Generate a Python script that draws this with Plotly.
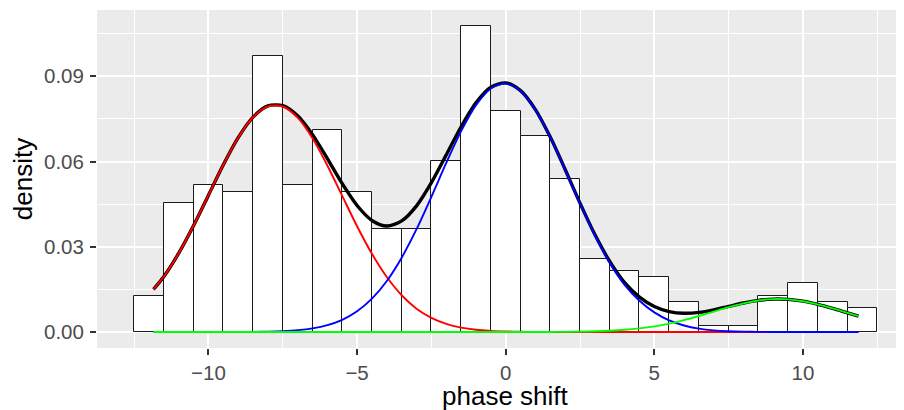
import plotly.graph_objects as go

# Histogram (binwidth 1, centred on integers)
bin_centers = [-12, -11, -10, -9, -8, -7, -6, -5, -4, -3, -2, -1, 0,
               1, 2, 3, 4, 5, 6, 7, 8, 9, 10, 11, 12]
bin_density = [0.0128, 0.0454, 0.0517, 0.0494, 0.0971, 0.0517, 0.0711, 0.0494,
               0.0364, 0.0364, 0.0603, 0.1078, 0.0777, 0.0690, 0.0538, 0.0258,
               0.0214, 0.0192, 0.0106, 0.0020, 0.0020, 0.0128, 0.0172, 0.0106, 0.0084]

# Mixture component curves
curve_x = [-11.85, -11.5, -11, -10.5, -10, -9.5, -9, -8.5, -8, -7.5, -7, -6.5, -6,
           -5.5, -5, -4.5, -4, -3.5, -3, -2.5, -2, -1.5, -1, -0.5, 0, 0.5, 1, 1.5,
           2, 2.5, 3, 3.5, 4, 4.5, 5, 5.5, 6, 6.5, 7, 7.5, 8, 8.5, 9, 9.5, 10,
           10.5, 11, 11.5, 11.87]
red_y = [0.0150, 0.01952, 0.02774, 0.03747, 0.04816, 0.05885, 0.06839, 0.07558,
         0.07942, 0.07937, 0.07544, 0.06818, 0.0586, 0.0479, 0.03723, 0.02752,
         0.01934, 0.01294, 0.00822, 0.00497, 0.00286, 0.00156, 0.00081, 0.0004,
         0.00019, 0.000085, 0.00004, 0.000015, 0.000006, 0.000002,
         0, 0, 0, 0, 0, 0, 0, 0, 0, 0, 0, 0, 0, 0, 0, 0, 0, 0, 0]
blue_y = [0, 0, 0, 0.000001, 0.000004, 0.00001, 0.000026, 0.000063, 0.000144,
          0.000313, 0.00065, 0.001285, 0.00241, 0.0043, 0.00729, 0.01174, 0.01797,
          0.02616, 0.03619, 0.04759, 0.05949, 0.07069, 0.07985, 0.08572, 0.08748,
          0.08486, 0.07824, 0.06857, 0.05713, 0.04524, 0.03405, 0.02437, 0.01657,
          0.0110, 0.0069, 0.0041, 0.0023, 0.00118, 0.000565, 0.00027, 0.000122,
          0.000053, 0.000022, 0.000008, 0.000003, 0.000001, 0, 0, 0]
green_y = [0, 0, 0, 0, 0, 0, 0, 0, 0, 0, 0, 0, 0, 0, 0, 0, 0, 0, 0, 0, 0, 0, 0, 0,
           0.000002, 0.000006, 0.000014, 0.000031, 0.000065, 0.000131, 0.000249,
           0.000452, 0.000781, 0.001283, 0.002002, 0.002972, 0.004197, 0.005634,
           0.007194, 0.008734, 0.010085, 0.011073, 0.011562, 0.011482, 0.010842,
           0.009736, 0.008315, 0.006752, 0.0056]
total_y = [0.0150, 0.01952, 0.02774, 0.03747, 0.04816, 0.05886, 0.06842, 0.07564,
           0.07956, 0.07968, 0.07609, 0.06947, 0.06101, 0.0522, 0.04452, 0.03926,
           0.03731, 0.0391, 0.04441, 0.05256, 0.06235, 0.07225, 0.08066, 0.08612,
           0.08767, 0.08495, 0.07829, 0.0686, 0.0572, 0.04537, 0.0343, 0.02482,
           0.01735, 0.01230, 0.0090, 0.0072, 0.0066, 0.0069, 0.0078, 0.0090,
           0.01021, 0.01113, 0.01158, 0.01149, 0.01085, 0.00974, 0.00832, 0.00675,
           0.0056]

x_tickvals = [-10, -5, 0, 5, 10]
x_ticktext = ["\u221210", "\u22125", "0", "5", "10"]
y_tickvals = [0.0, 0.03, 0.06, 0.09]
y_ticktext = ["0.00", "0.03", "0.06", "0.09"]

FONT = "Liberation Sans, Arial, Helvetica, sans-serif"

fig = go.Figure()
fig.add_trace(go.Bar(x=bin_centers, y=bin_density, width=1,
                     marker=dict(color="white", line=dict(color="#1a1a1a", width=1)),
                     showlegend=False, hoverinfo="skip"))
for ys, col, w in [(total_y, "black", 3.4), (red_y, "#FF0000", 1.9),
                   (blue_y, "#0000FF", 1.9), (green_y, "#00FF00", 1.9)]:
    fig.add_trace(go.Scatter(x=curve_x, y=ys, mode="lines",
                             line=dict(color=col, width=w, shape="spline", smoothing=0.8),
                             showlegend=False))

# the page body has an 8px default margin, so the figure is offset by 8px
fig.update_layout(
    width=896, height=402,
    margin=dict(l=89, r=0, t=2, b=62, autoexpand=False),
    paper_bgcolor="white", plot_bgcolor="#EBEBEB",
    bargap=0,
    font=dict(family=FONT, color="#4D4D4D", size=20),
    xaxis=dict(range=[-13.75, 13.40], tickmode="array", tickvals=x_tickvals,
               ticktext=x_ticktext, showgrid=True, gridcolor="white", gridwidth=2.2,
               zeroline=False, ticks="outside", ticklen=6, tickwidth=2,
               tickcolor="#333333", tickfont=dict(size=20.5, color="#4D4D4D"),
               minor=dict(tickmode="array", tickvals=[-12.5, -7.5, -2.5, 2.5, 7.5, 12.5],
                          showgrid=True, gridcolor="white", gridwidth=1.1, ticks=""),
               showline=False, fixedrange=True, automargin=False),
    yaxis=dict(range=[-0.005625, 0.11333], tickmode="array", tickvals=y_tickvals,
               ticktext=y_ticktext, showgrid=True, gridcolor="white", gridwidth=2.2,
               zeroline=False, ticks="outside", ticklen=6, tickwidth=2,
               tickcolor="#333333", tickfont=dict(size=20.5, color="#4D4D4D"),
               ticklabelstandoff=2,
               minor=dict(tickmode="array", tickvals=[0.015, 0.045, 0.075, 0.105],
                          showgrid=True, gridcolor="white", gridwidth=1.1, ticks=""),
               showline=False, fixedrange=True, automargin=False),
    annotations=[
        dict(text="phase shift", xref="x", yref="paper", x=0, y=-0.141,
             xanchor="center", yanchor="middle", showarrow=False,
             font=dict(family=FONT, size=26, color="black")),
        dict(text="density", xref="paper", yref="paper", x=-0.0915, y=0.5,
             xanchor="center", yanchor="middle", textangle=-90, showarrow=False,
             font=dict(family=FONT, size=26, color="black")),
    ],
)

fig.write_html("out.html")
